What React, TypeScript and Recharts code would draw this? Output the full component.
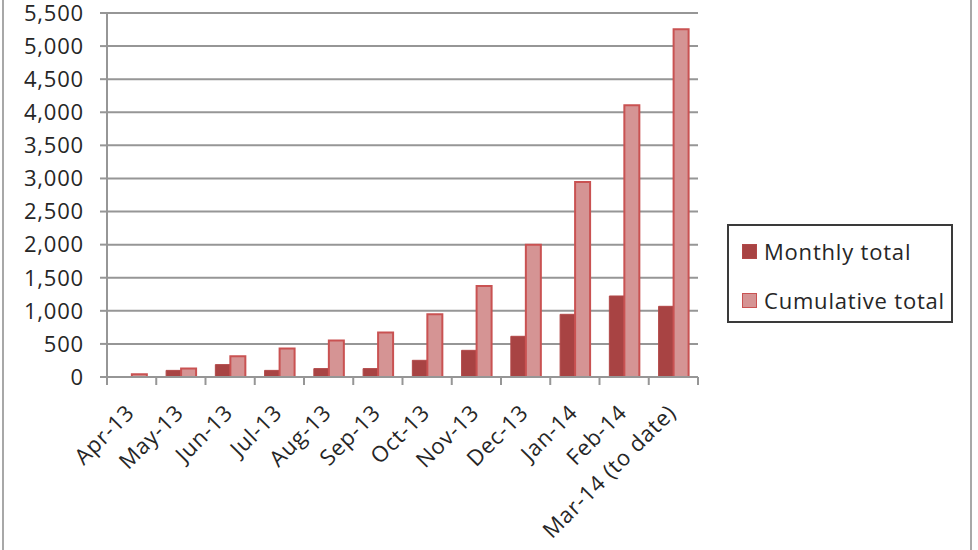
import React from 'react';
import { BarChart, Bar, XAxis, YAxis, CartesianGrid } from 'recharts';

const months = [
  'Apr-13', 'May-13', 'Jun-13', 'Jul-13', 'Aug-13', 'Sep-13',
  'Oct-13', 'Nov-13', 'Dec-13', 'Jan-14', 'Feb-14', 'Mar-14 (to date)',
];
const monthlyTotal = [0, 100, 187, 100, 127, 127, 252, 403, 615, 947, 1224, 1068];
const cumulativeTotal = [40, 127, 313, 429, 550, 671, 947, 1375, 2000, 2947, 4105, 5254];
const yTicks = [0, 500, 1000, 1500, 2000, 2500, 3000, 3500, 4000, 4500, 5000, 5500];

const data = months.map((m, i) => ({
  month: m,
  monthly: monthlyTotal[i],
  cumulative: cumulativeTotal[i],
}));

const FONT = '"Open Sans", sans-serif';
const FONT_SIZE = 22;
const SPACING = 0.8;
const TEXT = '#262626';
const AXIS = '#969696';

const PLOT_LEFT = 107;
const PLOT_RIGHT = 698;
const PLOT_BOTTOM = 377;
const HALF_BAND = (PLOT_RIGHT - PLOT_LEFT) / months.length / 2;

// excel style: tick marks sit between categories, labels at -45deg
const MonthTick = (props: any) => {
  const { x, y, payload, index } = props;
  const ax = x + 4;
  const ay = y + 37;
  return (
    <g>
      <line x1={x - HALF_BAND} y1={y} x2={x - HALF_BAND} y2={y + 8} stroke={AXIS} strokeWidth={2} />
      {index === months.length - 1 && (
        <line x1={x + HALF_BAND} y1={y} x2={x + HALF_BAND} y2={y + 8} stroke={AXIS} strokeWidth={2} />
      )}
      <text
        x={ax}
        y={ay}
        textAnchor="end"
        transform={`rotate(-45, ${ax}, ${ay})`}
        fill={TEXT}
        fontSize={FONT_SIZE}
        letterSpacing={SPACING}
        fontFamily={FONT}
      >
        {payload.value}
      </text>
    </g>
  );
};

const LegendSwatch = ({ fill, stroke }: { fill: string; stroke: string }) => (
  <span
    style={{
      display: 'inline-block',
      width: 13,
      height: 13,
      background: fill,
      border: `1.5px solid ${stroke}`,
      marginRight: 7,
    }}
  />
);

export default function App() {
  return (
    <div style={{ position: 'absolute', left: 0, top: 0, width: 978, height: 550, background: '#fff' }}>
      <div style={{ position: 'absolute', left: 2, top: 0, width: 2, height: 550, background: '#a8a8a8' }} />
      <div style={{ position: 'absolute', left: 970, top: 0, width: 2, height: 550, background: '#a8a8a8' }} />

      <BarChart
        width={978}
        height={550}
        data={data}
        margin={{ top: 13, right: 978 - PLOT_RIGHT, left: 0, bottom: 0 }}
        barCategoryGap="20%"
        barGap={0}
      >
        <CartesianGrid vertical={false} stroke={AXIS} strokeWidth={2} />
        <XAxis
          dataKey="month"
          interval={0}
          axisLine={{ stroke: AXIS, strokeWidth: 2 }}
          tickLine={false}
          tickSize={0}
          tickMargin={0}
          tick={<MonthTick />}
          height={550 - PLOT_BOTTOM}
        />
        <YAxis
          width={PLOT_LEFT}
          domain={[0, 5500]}
          ticks={yTicks}
          interval={0}
          tickFormatter={(v: number) => v.toLocaleString('en-US')}
          axisLine={{ stroke: AXIS, strokeWidth: 2 }}
          tickLine={{ stroke: AXIS, strokeWidth: 2 }}
          tickSize={7}
          tickMargin={16}
          tick={{ fill: TEXT, fontSize: FONT_SIZE, fontFamily: FONT, letterSpacing: SPACING }}
        />
        <Bar dataKey="monthly" fill="#A84343" stroke="#B24848" strokeWidth={1} isAnimationActive={false} />
        <Bar dataKey="cumulative" fill="#D59494" stroke="#C95252" strokeWidth={2} isAnimationActive={false} />
      </BarChart>

      <div
        style={{
          position: 'absolute',
          left: 727,
          top: 224,
          width: 222,
          height: 95,
          border: '2px solid #3a3a3a',
          fontFamily: FONT,
          fontSize: FONT_SIZE,
          letterSpacing: SPACING,
          color: TEXT,
        }}
      >
        <div style={{ position: 'absolute', left: 13, top: 10, display: 'flex', alignItems: 'center', whiteSpace: 'nowrap' }}>
          <LegendSwatch fill="#A84343" stroke="#B24848" />
          Monthly total
        </div>
        <div style={{ position: 'absolute', left: 13, top: 59, display: 'flex', alignItems: 'center', whiteSpace: 'nowrap' }}>
          <LegendSwatch fill="#D59494" stroke="#C95252" />
          Cumulative total
        </div>
      </div>
    </div>
  );
}
